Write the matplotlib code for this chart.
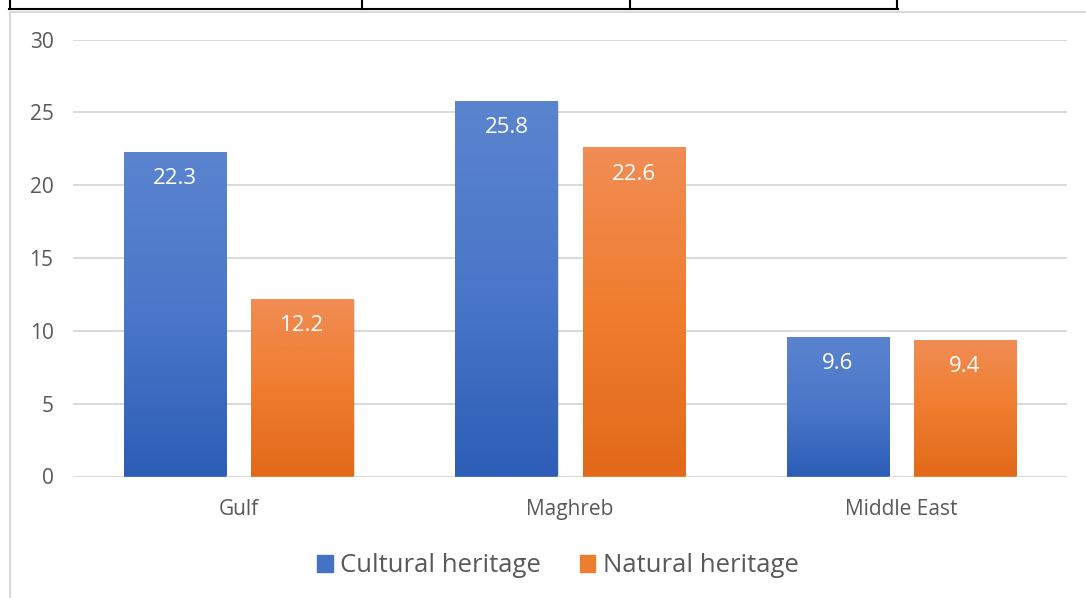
import numpy as np
import matplotlib
matplotlib.use("Agg")
import matplotlib.pyplot as plt
from matplotlib.lines import Line2D
from matplotlib.colors import LinearSegmentedColormap

# Data
regions = ["Gulf", "Maghreb", "Middle East"]
cultural = [22.3, 25.8, 9.6]
natural = [12.2, 22.6, 9.4]
series_names = ["Cultural heritage", "Natural heritage"]
y_ticks = [0, 5, 10, 15, 20, 25, 30]

plt.rcParams["font.family"] = ["Open Sans", "DejaVu Sans"]

W, H = 1086, 598
fig = plt.figure(figsize=(W / 100, H / 100), dpi=100)
fig.patch.set_facecolor("white")

ax = fig.add_axes([73 / W, 1 - 476.5 / H, (1067 - 73) / W, (476.5 - 39.5) / H])
ax.set_xlim(-0.5, 2.5)
ax.set_ylim(0, 30)
ax.set_facecolor("none")

# Gridlines
for t in y_ticks:
    ax.axhline(t, color="#D9D9D9", lw=1.4, zorder=0)

for s in ax.spines.values():
    s.set_visible(False)
ax.tick_params(length=0)
ax.set_yticks(y_ticks)
ax.set_yticklabels([str(t) for t in y_ticks], fontsize=15, color="#595959")
ax.tick_params(axis="y", pad=14)
ax.set_xticks(range(len(regions)))
ax.set_xticklabels(regions, fontsize=15, color="#595959")
ax.tick_params(axis="x", pad=16)

bar_w = 0.308
offset = 0.192
x = np.arange(len(regions))

blue_grad = LinearSegmentedColormap.from_list("blue", ["#2D5DB6", "#4A77C9", "#5B84CF"])
orange_grad = LinearSegmentedColormap.from_list("orange", ["#E2691A", "#F07D2E", "#F08D55"])

grad = np.linspace(0, 1, 256).reshape(-1, 1)


def draw_series(xs, vals, cmap, face):
    bars = ax.bar(xs, vals, width=bar_w, color=face, zorder=2, linewidth=0)
    for b, v in zip(bars, vals):
        x0 = b.get_x()
        x1 = x0 + b.get_width()
        # soft shadow on the right/bottom edge
        ax.bar(x0 + b.get_width() / 2 + 0.004, v, width=bar_w, bottom=-0.08,
               color="#000000", alpha=0.12, zorder=1.5, linewidth=0)
        im = ax.imshow(grad, extent=[x0, x1, 0, v], origin="lower",
                       cmap=cmap, aspect="auto", zorder=2.5)
        im.set_clip_path(b)
        ax.annotate(f"{v}", xy=(x0 + b.get_width() / 2, v), xytext=(0, -27),
                    textcoords="offset pixels",
                    ha="center", va="center", color="white", fontsize=16,
                    zorder=4)
    return bars


draw_series(x - offset, cultural, blue_grad, "#4472C4")
draw_series(x + offset, natural, orange_grad, "#ED7D31")
ax.set_xlim(-0.5, 2.5)
ax.set_ylim(0, 30)

# Legend
handles = [plt.Rectangle((0, 0), 1, 1, color="#4472C4"),
           plt.Rectangle((0, 0), 1, 1, color="#ED7D31")]
fig.legend(handles, series_names, loc="center", bbox_to_anchor=(558 / W, 1 - 566 / H),
           ncol=2, frameon=False, fontsize=18.5, labelcolor="#595959",
           handlelength=0.6, handleheight=0.6, handletextpad=0.3, columnspacing=1.5)

# Chart frame and the table edge above it
def fline(xs, ys, color, lw):
    fig.add_artist(Line2D([v / W for v in xs], [1 - v / H for v in ys],
                          color=color, lw=lw, transform=fig.transFigure))

fline([9.5, 9.5], [11.5, H], "#D9D9D9", 1.5)
fline([9.5, W], [11.5, 11.5], "#D9D9D9", 1.5)
fline([9, 897.5], [8.5, 8.5], "black", 1.5)
for xv in [9.5, 361.5, 630, 897]:
    fline([xv, xv], [0, 9], "black", 1.5)

fig.savefig("out.png", dpi=100, facecolor="white")
